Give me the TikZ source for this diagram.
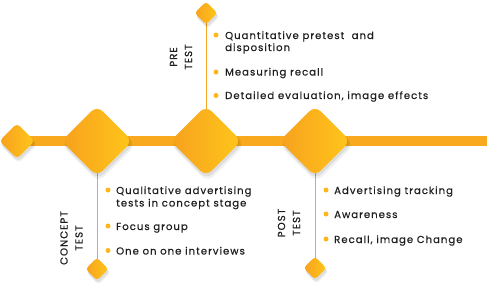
\documentclass[tikz,border=0pt]{standalone}
\usepackage{fontspec}
\setmainfont{Poppins}[LetterSpace=10]
\usetikzlibrary{shadows}
\definecolor{ylw}{HTML}{FFC61A}
\definecolor{org}{HTML}{F7A11E}
\definecolor{barc}{HTML}{F8A91E}
\definecolor{linec}{HTML}{F5A623}
\definecolor{txt}{HTML}{1E1E1E}
\tikzset{
  gem/.style={shape=rectangle, rotate=45, minimum size=#1, inner sep=0pt,
    left color=org, right color=ylw, draw=none,
    general shadow={fill=black, opacity=0.06, shadow xshift=1.5pt, shadow yshift=-3.5pt, shadow scale=1.06},
    general shadow={fill=black, opacity=0.08, shadow xshift=1pt, shadow yshift=-2.5pt, shadow scale=1.02}},
  biggem/.style={gem=50pt, rounded corners=8pt},
  midgem/.style={gem=25pt, rounded corners=4pt},
  smallgem/.style={gem=16pt, rounded corners=3pt},
  vline/.style={draw=linec, line width=0.8pt},
  item/.style={anchor=base west, inner sep=0pt, font=\fontsize{10.1}{12.5}\selectfont\addfontfeatures{FakeBold=0.4}, text=txt},
  dot/.style={circle, fill=ylw!60!org, inner sep=0pt, minimum size=5pt},
  lbl/.style={rotate=90, align=center, inner sep=0pt, font=\fontsize{10.2}{15}\selectfont\addfontfeatures{FakeBold=0.7}, text=txt}
}
\begin{document}
\begin{tikzpicture}[x=1pt,y=-1pt]
\useasboundingbox (0,0) rectangle (487,290);
\coordinate (barend) at (487,141);
\coordinate (d0c) at (17,141);
\coordinate (d1c) at (97,141);
\coordinate (d2c) at (206,141);
\coordinate (d3c) at (315,141);
\coordinate (t2c) at (206,13);
\coordinate (b1c) at (97,269);
\coordinate (b3c) at (315,268);
% connectors first
\draw[draw=barc, line width=10pt] (d0c) -- (barend);
\draw[vline] (t2c) -- (d2c);
\draw[vline] (d1c) -- (b1c);
\draw[vline] (d3c) -- (b3c);
% diamonds
\node[midgem] (d0) at (d0c) {};
\node[biggem] (d1) at (d1c) {};
\node[biggem] (d2) at (d2c) {};
\node[biggem] (d3) at (d3c) {};
\node[smallgem] (t2) at (t2c) {};
\node[smallgem] (b1) at (b1c) {};
\node[smallgem] (b3) at (b3c) {};
% pre test
\node[lbl] (lpre) at (181,57) {PRE\\TEST};
\node[dot] (p1) at (216,35) {};
\node[item] (pt1) at (225,39) {Quantitative pretest\ \ and};
\node[item] (pt1b) at (225,51) {disposition};
\node[dot] (p2) at (216,72) {};
\node[item] (pt2) at (225,75.5) {Measuring recall};
\node[dot] (p3) at (216,95.5) {};
\node[item] (pt3) at (225,99) {Detailed evaluation, image effects};
% concept test
\node[lbl] (lcon) at (71.5,238) {CONCEPT\\TEST};
\node[dot] (c1) at (108,190) {};
\node[item] (ct1) at (116,194) {Qualitative advertising};
\node[item] (ct1b) at (116,206.5) {tests in concept stage};
\node[dot] (c2) at (108,226) {};
\node[item] (ct2) at (116,230) {Focus group};
\node[dot] (c3) at (108,250.5) {};
\node[item] (ct3) at (116,254.5) {One on one interviews};
% post test
\node[lbl] (lpost) at (289,223) {POST\\TEST};
\node[dot] (q1) at (326,190) {};
\node[item] (qt1) at (334,194) {Advertising tracking};
\node[dot] (q2) at (326,214) {};
\node[item] (qt2) at (334,218) {Awareness};
\node[dot] (q3) at (326,239) {};
\node[item] (qt3) at (334,243) {Recall, image Change};
\end{tikzpicture}
\end{document}
